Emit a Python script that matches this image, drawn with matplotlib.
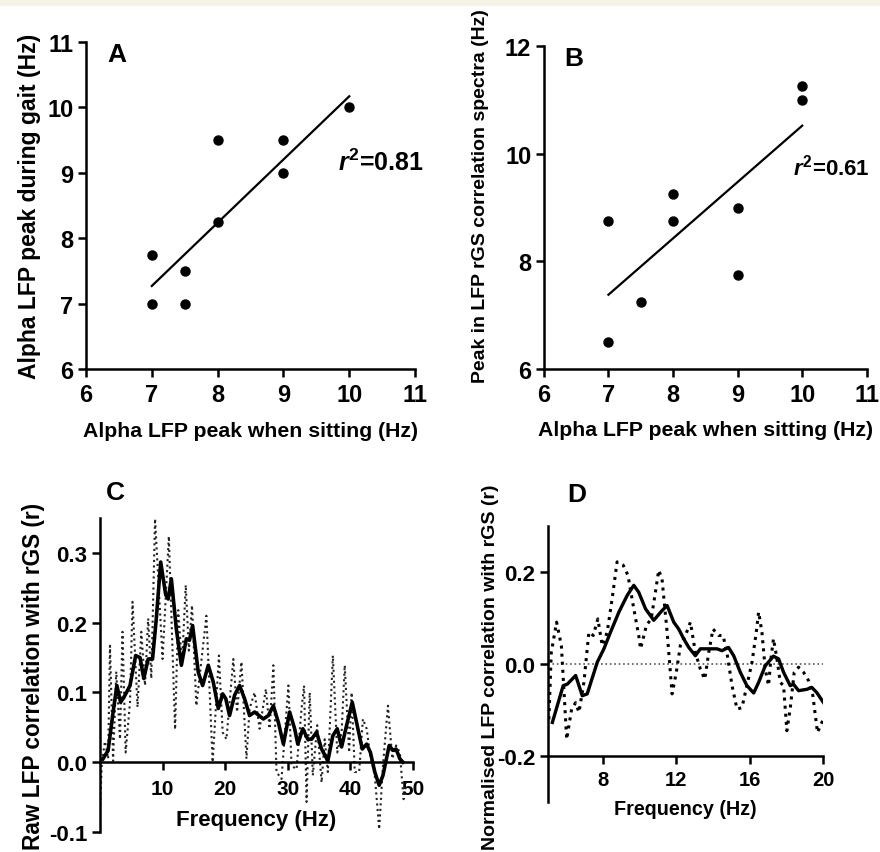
'''
Peak alpha LFP frequencies and LFP - rGS correlation spectra (panels A-D).
'''

# Modules
from matplotlib import pyplot as plt
from matplotlib.patches import Rectangle
import numpy as np

plt.rcParams['font.family'] = ['Liberation Sans', 'DejaVu Sans']
plt.rcParams['font.weight'] = 'bold'
plt.rcParams['axes.unicode_minus'] = False
plt.rcParams['mathtext.fontset'] = 'custom'
plt.rcParams['mathtext.rm'] = 'Liberation Sans:bold'
plt.rcParams['mathtext.it'] = 'Liberation Sans:italic:bold'
plt.rcParams['mathtext.bf'] = 'Liberation Sans:bold'

# Panel A data
sit_a = [7, 7, 7.5, 7.5, 8, 8, 9, 9, 10]
gait_a = [7.75, 7, 7.5, 7, 9.5, 8.25, 9.5, 9, 10]
fit_a_x = [7, 10]
fit_a_y = [7.27, 10.17]

# Panel B data
sit_b = [7, 7, 7.5, 8, 8, 9, 9, 10, 10]
peak_b = [8.75, 6.5, 7.25, 9.25, 8.75, 9, 7.75, 11.25, 11]
fit_b_x = [7, 10]
fit_b_y = [7.38, 10.52]

# Panel C data (raw correlation spectra)
freq_c_avg = [0.5, 1.3, 2.1, 2.7, 3.3, 4.0, 4.8, 5.7, 6.4, 7.0, 7.7, 8.4,
              9.0, 9.7, 10.5, 10.9, 11.4, 12.2, 13.0, 13.8, 14.3, 14.8, 15.7,
              16.4, 17.3, 18.1, 18.9, 19.6, 20.1, 20.7, 21.5, 22.3, 23.1,
              23.9, 24.7, 25.4, 26.1, 26.9, 27.7, 28.5, 29.3, 30.3, 31.1,
              31.6, 32.4, 33.2, 33.8, 34.6, 35.4, 36.4, 37.2, 37.9, 38.6,
              39.4, 40.3, 41.2, 41.9, 42.6, 43.2, 43.9, 44.6, 45.2, 46.2,
              46.8, 47.3, 47.9, 48.4]
corr_c_avg = [0.005, 0.017, 0.072, 0.11, 0.086, 0.096, 0.11, 0.153, 0.15,
              0.12, 0.148, 0.148, 0.206, 0.287, 0.24, 0.234, 0.263, 0.191,
              0.139, 0.177, 0.175, 0.196, 0.129, 0.11, 0.139, 0.115, 0.077,
              0.098, 0.091, 0.067, 0.096, 0.11, 0.091, 0.067, 0.072, 0.067,
              0.062, 0.067, 0.081, 0.057, 0.026, 0.072, 0.048, 0.026, 0.048,
              0.033, 0.033, 0.043, 0.019, 0.002, 0.038, 0.048, 0.022, 0.053,
              0.086, 0.048, 0.019, 0.026, 0.014, -0.014, -0.033, -0.019,
              0.024, 0.017, 0.019, 0.005, 0.0]
freq_c_raw = [0.0, 0.3, 0.8, 1.3, 1.6, 2.1, 2.6, 3.2, 3.6, 4.1, 4.8, 5.2,
              6.0, 6.6, 7.2, 7.7, 8.2, 8.8, 10.0, 11.0, 12.0, 12.5, 13.1,
              13.7, 14.2, 14.7, 15.4, 17.0, 18.0, 19.0, 19.6, 20.2, 21.3,
              21.9, 22.6, 23.4, 23.9, 24.7, 25.5, 26.5, 27.1, 27.7, 28.2,
              29.0, 30.1, 30.6, 31.4, 32.2, 32.6, 33.0, 33.5, 34.0, 34.7,
              35.4, 35.9, 36.4, 37.2, 37.9, 38.6, 39.1, 39.8, 40.2, 40.7,
              41.4, 42.0, 42.6, 43.1, 43.9, 44.6, 45.2, 46.0, 46.7, 47.3,
              47.9, 48.5, 48.9]
corr_c_raw = [-0.07, 0.0, 0.03, 0.005, 0.167, 0.002, 0.13, 0.033, 0.187,
              0.014, 0.086, 0.23, 0.079, 0.187, 0.11, 0.206, 0.12, 0.349,
              0.148, 0.324, 0.047, 0.218, 0.14, 0.254, 0.16, 0.225, 0.081,
              0.21, 0.0, 0.153, 0.043, 0.033, 0.148, 0.072, 0.144, 0.005,
              0.077, 0.1, 0.048, 0.105, 0.048, 0.139, -0.014, -0.024, 0.11,
              -0.005, -0.01, 0.077, 0.11, -0.057, 0.1, -0.019, 0.053,
              -0.029, 0.033, -0.014, 0.153, 0.014, 0.043, 0.139, 0.014, 0.1,
              -0.014, -0.014, 0.062, 0.048, 0.014, -0.019, -0.096, -0.005,
              0.081, 0.005, 0.024, 0.014, -0.053, -0.03]

# Panel D data (normalised correlation spectra)
freq_d_avg = [5.24, 5.83, 6.05, 6.51, 6.87, 7.14, 7.69, 8.05, 8.41, 8.87,
              9.32, 9.68, 9.95, 10.32, 10.77, 11.22, 11.5, 11.86, 12.13,
              12.4, 12.68, 13.04, 13.31, 13.68, 14.22, 14.49, 14.85, 15.13,
              15.49, 15.85, 16.22, 16.49, 16.85, 17.3, 17.58, 17.85, 18.21,
              18.39, 18.67, 19.12, 19.39, 19.66, 20.03]
corr_d_avg = [-0.127, -0.047, -0.044, -0.025, -0.069, -0.065, 0.004, 0.033,
              0.069, 0.113, 0.149, 0.171, 0.156, 0.12, 0.095, 0.116, 0.127,
              0.091, 0.076, 0.055, 0.036, 0.018, 0.033, 0.033, 0.033, 0.029,
              0.036, 0.018, -0.018, -0.047, -0.063, -0.04, -0.004, 0.017,
              0.011, -0.018, -0.047, -0.044, -0.058, -0.055, -0.051, -0.062,
              -0.084]
freq_d_raw = [5.05, 5.18, 5.47, 5.73, 5.96, 6.02, 6.29, 6.51, 6.69, 6.96,
              7.23, 7.47, 7.72, 7.96, 8.23, 8.5, 8.77, 9.1, 9.36, 9.65, 9.95,
              10.05, 10.37, 10.63, 10.86, 11.04, 11.22, 11.5, 11.77, 12.0,
              12.22, 12.5, 12.77, 13.04, 13.31, 13.55, 13.77, 14.0, 14.31,
              14.55, 14.76, 15.04, 15.31, 15.58, 15.85, 16.13, 16.36, 16.49,
              16.67, 16.85, 17.03, 17.16, 17.3, 17.49, 17.67, 17.85, 18.03,
              18.21, 18.43, 18.67, 18.94, 19.21, 19.45, 19.7, 19.94, 20.03]
corr_d_raw = [-0.12, 0.025, 0.091, 0.04, -0.12, -0.164, -0.098, -0.084,
              -0.105, -0.04, 0.069, 0.062, 0.098, 0.04, 0.069, 0.142, 0.222,
              0.215, 0.193, 0.127, 0.062, 0.033, 0.084, 0.098, 0.156, 0.204,
              0.185, 0.069, -0.065, -0.018, 0.04, 0.062, 0.091, 0.025, -0.011,
              -0.033, 0.025, 0.076, 0.062, 0.062, 0.025, -0.047, -0.098,
              -0.095, -0.047, 0.004, 0.069, 0.113, 0.069, -0.011, -0.047,
              0.011, 0.055, 0.011, -0.04, -0.047, -0.145, -0.098, -0.018,
              -0.007, -0.018, -0.036, -0.069, -0.149, -0.127, -0.12]


def style_axes(ax, xtick_size, ytick_size):
    """
    Prism-like axes: left and bottom spines only, thick, ticks outwards.
    """
    for side in ['top', 'right']:
        ax.spines[side].set_visible(False)
    for side in ['left', 'bottom']:
        ax.spines[side].set_linewidth(1.8)
    ax.tick_params(direction='out', length=6, width=1.8, pad=3)
    ax.tick_params(axis='x', labelsize=xtick_size, pad=4)
    ax.tick_params(axis='y', labelsize=ytick_size)
    for lab in ax.get_xticklabels() + ax.get_yticklabels():
        lab.set_fontweight('bold')


def scatter_panel(ax, x, y, fit_x, fit_y, yticks, ylabel, letter, r2_txt,
                  r2_pos, r2_size, ylabel_size, ylabel_pos):

    ax.plot(x, y, 'o', color='black', markersize=6.5, clip_on=False)
    ax.plot(fit_x, fit_y, color='black', linewidth=1.6)
    ax.set_xlim(6, 11)
    ax.set_ylim(yticks[0], yticks[-1])
    ax.set_xticks([6, 7, 8, 9, 10, 11])
    ax.set_yticks(yticks)
    style_axes(ax, 17, 17)
    ax.set_xlabel('Alpha LFP peak when sitting (Hz)', fontsize=15.3,
                  fontweight='bold')
    ax.xaxis.set_label_coords(0.5, -0.158)
    ax.set_ylabel(ylabel, fontsize=ylabel_size, fontweight='bold')
    ax.yaxis.set_label_coords(ylabel_pos[0], ylabel_pos[1])
    ax.text(0.064, 1.0, letter, transform=ax.transAxes, fontsize=19,
            fontweight='bold', va='top')
    ax.text(r2_pos[0], r2_pos[1], r2_txt, fontsize=r2_size,
            fontweight='bold', va='center')


def main():

    figure = plt.figure(figsize=(8.8, 8.53), dpi=100)
    figure.patches.append(Rectangle((0, 1 - 6 / 853), 1, 6 / 853,
                                    transform=figure.transFigure,
                                    color='#f6f2e4', zorder=0))

    # A
    ax_a = figure.add_axes([0.0977, 0.5662, 0.374, 0.3834])
    scatter_panel(ax_a, sit_a, gait_a, fit_a_x, fit_a_y, [6, 7, 8, 9, 10, 11],
                  'Alpha LFP peak during gait (Hz)', 'A', r'$r^2$=0.81',
                  (9.83, 9.17), 18, 16.5, (-0.136, 0.5))

    # B
    ax_b = figure.add_axes([0.618, 0.5662, 0.367, 0.3787])
    scatter_panel(ax_b, sit_b, peak_b, fit_b_x, fit_b_y, [6, 8, 10, 12],
                  'Peak in LFP rGS correlation spectra (Hz)', 'B',
                  r'$r^2$=0.61', (9.85, 9.77), 16, 14.0, (-0.17, 0.54))

    # C
    ax_c = figure.add_axes([0.1136, 0.02345, 0.3557, 0.368])
    ax_c.plot(freq_c_raw, corr_c_raw, ':', color='#222222', linewidth=1.5)
    ax_c.plot(freq_c_avg, corr_c_avg, color='black', linewidth=2.6)
    ax_c.set_xlim(0, 50)
    ax_c.set_ylim(-0.1, 0.35)
    ax_c.spines['bottom'].set_position(('data', 0))
    ax_c.set_xticks([10, 20, 30, 40, 50])
    ax_c.set_yticks([-0.1, 0.0, 0.1, 0.2, 0.3])
    ax_c.set_yticklabels(['{:.1f}'.format(v)
                          for v in [-0.1, 0.0, 0.1, 0.2, 0.3]])
    style_axes(ax_c, 15, 16)
    ax_c.tick_params(axis='x', pad=6)
    ax_c.set_xlabel('Frequency (Hz)', fontsize=16, fontweight='bold')
    ax_c.xaxis.set_label_coords(0.5, 0.072)
    ax_c.set_ylabel('Raw LFP correlation with rGS (r)', fontsize=16.3,
                    fontweight='bold')
    ax_c.yaxis.set_label_coords(-0.175, 0.5)
    ax_c.text(0.02, 1.12, 'C', transform=ax_c.transAxes, fontsize=19,
              fontweight='bold', va='top')

    # D
    ax_d = figure.add_axes([0.6227, 0.0586, 0.3125, 0.3236])
    ax_d.axhline(0, color='#555555', linestyle=':', linewidth=1.2)
    ax_d.plot(freq_d_raw, corr_d_raw, ':', color='black', linewidth=2.2)
    ax_d.plot(freq_d_avg, corr_d_avg, color='black', linewidth=2.4)
    ax_d.set_xlim(5, 20)
    ax_d.set_ylim(-0.3, 0.3)
    ax_d.spines['bottom'].set_position(('data', -0.2))
    ax_d.set_xticks([8, 12, 16, 20])
    ax_d.set_yticks([-0.2, 0.0, 0.2])
    ax_d.set_yticklabels(['-0.2', '0.0', '0.2'])
    style_axes(ax_d, 14.5, 16)
    ax_d.set_xlabel('Frequency (Hz)', fontsize=14.2, fontweight='bold')
    ax_d.xaxis.set_label_coords(0.5, 0.01)
    ax_d.set_ylabel('Normalised LFP correlation with rGS (r)', fontsize=14,
                    fontweight='bold')
    ax_d.yaxis.set_label_coords(-0.178, 0.492)
    ax_d.text(0.07, 1.159, 'D', transform=ax_d.transAxes, fontsize=19,
              fontweight='bold', va='top')

    plt.savefig('out.png', dpi=100)
    return None


if __name__ == "__main__":
    main()
